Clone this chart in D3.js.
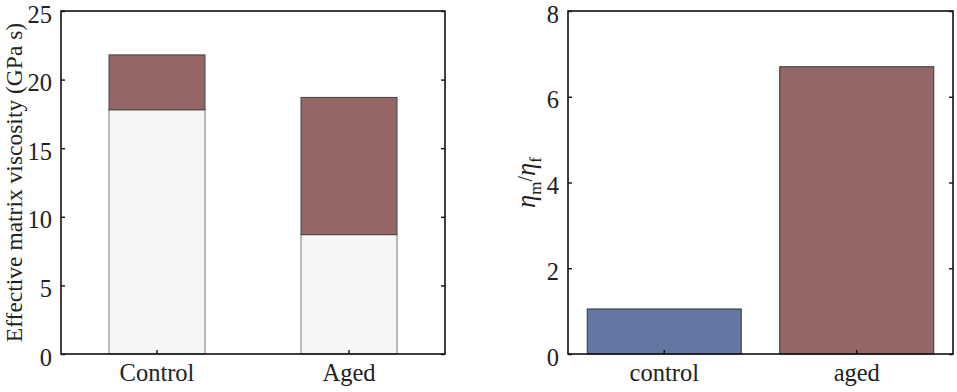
<!DOCTYPE html>
<html><head><meta charset="utf-8">
<script src="https://cdn.jsdelivr.net/npm/d3@7"></script>
<style>body{margin:0;background:#fff}svg{display:block}text{font-family:"Liberation Serif","Times New Roman",serif;fill:#222}</style>
</head><body>
<svg id="c" width="957" height="392"></svg>
<script>
// Left panel: stacked effective matrix viscosity
const leftCategories = ["Control", "Aged"];
const leftLower = [17.8, 8.7];
const leftTotal = [21.8, 18.7];
const leftTicks = [0, 5, 10, 15, 20, 25];
// Right panel: viscosity ratio
const rightCategories = ["control", "aged"];
const rightValues = [1.05, 6.7];
const rightTicks = [0, 2, 4, 6, 8];

const svg = d3.select("#c");
const fs = 24.5;
const tickLen = 4;

function frame(g, x0, x1, y0, y1) {
  g.append("rect").attr("x", x0).attr("y", y0).attr("width", x1 - x0).attr("height", y1 - y0)
    .attr("fill", "none").attr("stroke", "#111").attr("stroke-width", 1.6);
}
function style(a) {
  a.select(".domain").remove();
  a.selectAll("line").attr("stroke", "#111").attr("stroke-width", 1.4);
  a.selectAll("text").attr("font-size", fs).attr("font-family", "Liberation Serif").attr("fill", "#222");
}

// ----- Left -----
const L = {x0: 61, x1: 445, y0: 11, y1: 354};
const xL = d3.scaleBand().domain(leftCategories).range([L.x0, L.x1]).paddingInner(0.5).paddingOuter(0.25);
const yL = d3.scaleLinear().domain([0, 25]).range([L.y1, L.y0]);
const gL = svg.append("g");
leftCategories.forEach((c, i) => {
  gL.append("rect").attr("x", xL(c)).attr("y", yL(leftLower[i])).attr("width", xL.bandwidth())
    .attr("height", yL(0) - yL(leftLower[i])).attr("fill", "#f8f5f9").attr("stroke", "#777").attr("stroke-width", 1);
  gL.append("rect").attr("x", xL(c)).attr("y", yL(leftTotal[i])).attr("width", xL.bandwidth())
    .attr("height", yL(leftLower[i]) - yL(leftTotal[i])).attr("fill", "#946666").attr("stroke", "#444").attr("stroke-width", 1);
});
const axL = gL.append("g").attr("transform", `translate(${L.x0},0)`)
  .call(d3.axisLeft(yL).tickValues(leftTicks).tickSize(-tickLen).tickPadding(9).tickSizeOuter(0));
const axLr = gL.append("g").attr("transform", `translate(${L.x1},0)`)
  .call(d3.axisRight(yL).tickValues(leftTicks).tickSize(-tickLen).tickFormat("").tickSizeOuter(0));
const axLb = gL.append("g").attr("transform", `translate(0,${L.y1})`)
  .call(d3.axisBottom(xL).tickSize(-tickLen).tickPadding(10).tickSizeOuter(0));
[axL, axLr, axLb].forEach(style);
axL.selectAll("text").attr("dy", "0.45em");
axLb.selectAll("text").attr("dy", "0.71em");
frame(gL, L.x0, L.x1, L.y0, L.y1);
gL.append("text").attr("transform", `translate(22,${(L.y0 + L.y1) / 2}) rotate(-90)`)
  .attr("text-anchor", "middle").attr("font-size", 23.5).text("Effective matrix viscosity (GPa s)");

// ----- Right -----
const R = {x0: 568, x1: 953, y0: 11, y1: 354};
const xR = d3.scaleBand().domain(rightCategories).range([R.x0, R.x1]).paddingInner(0.2).paddingOuter(0.1);
const yR = d3.scaleLinear().domain([0, 8]).range([R.y1, R.y0]);
const rightColors = ["#6477a2", "#946666"];
const gR = svg.append("g");
rightCategories.forEach((c, i) => {
  gR.append("rect").attr("x", xR(c)).attr("y", yR(rightValues[i])).attr("width", xR.bandwidth())
    .attr("height", yR(0) - yR(rightValues[i])).attr("fill", rightColors[i]).attr("stroke", "#333").attr("stroke-width", 1);
});
const axR = gR.append("g").attr("transform", `translate(${R.x0},0)`)
  .call(d3.axisLeft(yR).tickValues(rightTicks).tickSize(-tickLen).tickPadding(9).tickSizeOuter(0));
const axRr = gR.append("g").attr("transform", `translate(${R.x1},0)`)
  .call(d3.axisRight(yR).tickValues(rightTicks).tickSize(-tickLen).tickFormat("").tickSizeOuter(0));
const axRb = gR.append("g").attr("transform", `translate(0,${R.y1})`)
  .call(d3.axisBottom(xR).tickSize(-tickLen).tickPadding(10).tickSizeOuter(0));
[axR, axRr, axRb].forEach(style);
axR.selectAll("text").attr("dy", "0.45em");
axRb.selectAll("text").attr("dy", "0.71em");
frame(gR, R.x0, R.x1, R.y0, R.y1);
const lab = gR.append("text").attr("transform", `translate(535,${(R.y0 + R.y1) / 2}) rotate(-90)`)
  .attr("text-anchor", "middle").attr("font-size", fs + 2);
lab.append("tspan").attr("font-style", "italic").text("η");
lab.append("tspan").attr("font-size", 17).attr("dy", 6).text("m");
lab.append("tspan").attr("dy", -9).attr("font-size", 20).text("/");
lab.append("tspan").attr("dy", 3).attr("font-style", "italic").text("η");
lab.append("tspan").attr("font-size", 17).attr("dy", 6).text("f");
</script>
</body></html>
